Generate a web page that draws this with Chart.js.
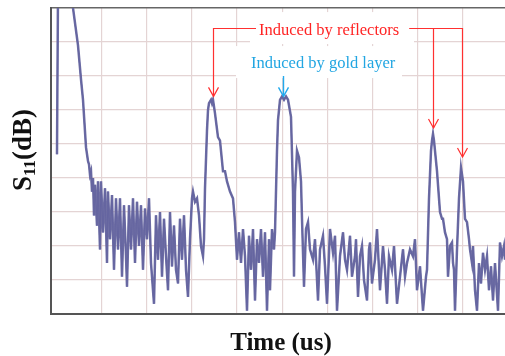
<!DOCTYPE html>
<html>
<head>
<meta charset="utf-8">
<script src="https://cdn.jsdelivr.net/npm/chart.js@4.4.1/dist/chart.umd.min.js"></script>
<style>
  html, body { margin: 0; padding: 0; background: #fff; }
  #wrap { width: 505px; height: 356px; }
</style>
</head>
<body>
<div id="wrap"><canvas id="chart" width="505" height="356"></canvas></div>
<script>
// time axis (arbitrary units, no labels in the source) and S11 trace in dB
const timeUs = [
  6, 7, 21, 22, 27, 30, 32, 35, 37, 38,
  39, 40, 41, 42, 43, 44, 46, 47, 49, 50,
  52, 54, 56, 57, 59, 61, 63, 65, 67, 69,
  71, 73, 75, 76, 78, 80, 82, 84, 86, 88,
  90, 92, 94, 96, 98, 100, 103, 105, 107, 109,
  111, 113, 115, 117, 119, 121, 123, 125, 127, 129,
  131, 133, 135, 137, 139, 141, 142, 144, 146, 148,
  150, 152, 153, 154, 156, 157, 158, 160, 161, 162,
  164, 167, 169, 172, 174, 176, 179, 182, 184, 186,
  188, 190, 192, 194, 196, 198, 200, 202, 204, 206,
  208, 210, 212, 214, 216, 218, 219, 221, 223, 224,
  226, 227, 229, 231, 233, 235, 237, 240, 242, 243,
  244, 246, 248, 250, 251, 253, 255, 257, 259, 262,
  264, 267, 269, 272, 274, 276, 279, 282, 284, 286,
  289, 292, 294, 296, 299, 301, 304, 305, 307, 309,
  311, 313, 316, 318, 319, 321, 324, 326, 327, 329,
  332, 334, 336, 338, 341, 343, 346, 349, 352, 354,
  356, 359, 362, 364, 366, 369, 372, 375, 376, 378,
  380, 381, 382, 383, 384, 386, 389, 391, 392, 394,
  396, 397, 399, 401, 402, 403, 404, 406, 408, 410,
  412, 414, 416, 418, 419, 421, 422, 424, 426, 428,
  430, 432, 434, 436, 438, 440, 442, 444, 447, 449,
  451, 453, 454
];
const s11Db = [
  -43, 5, 5, 0, -11, -21, -27, -41, -45, -46,
  -49, -48, -54, -50, -61, -52, -64, -51, -71, -51,
  -66, -53, -75, -54, -68, -55, -77, -56, -71, -56,
  -79, -58, -73, -82, -58, -71, -56, -75, -57, -70,
  -58, -77, -59, -68, -56, -75, -87, -61, -74, -60,
  -79, -62, -73, -83, -60, -76, -64, -77, -81, -62,
  -74, -61, -77, -85, -68, -56, -54, -57, -56, -61,
  -70, -73, -68, -53, -36, -30, -28, -27, -28, -27,
  -31, -38, -39, -48, -48, -51, -54, -56, -63, -74,
  -66, -75, -65, -73, -89, -67, -77, -65, -86, -68,
  -75, -65, -79, -66, -89, -68, -83, -65, -71, -66,
  -42, -33, -27, -26, -27, -26, -27, -32, -54, -79,
  -54, -42, -44, -51, -62, -82, -65, -63, -71, -74,
  -68, -86, -71, -67, -76, -87, -65, -72, -67, -89,
  -73, -66, -74, -77, -67, -79, -73, -68, -85, -73,
  -70, -80, -86, -71, -69, -81, -74, -65, -71, -83,
  -70, -77, -87, -73, -77, -70, -87, -79, -71, -79,
  -75, -71, -73, -68, -83, -76, -89, -79, -77, -56,
  -42, -39, -37, -39, -42, -48, -60, -62, -62, -66,
  -68, -79, -70, -69, -75, -77, -89, -71, -56, -47,
  -51, -62, -63, -68, -71, -75, -70, -83, -89, -75,
  -81, -72, -77, -73, -83, -76, -86, -75, -89, -69,
  -73, -70, -74
];

// vertical grid positions (time) and horizontal grid spacing (dB)
const gridTimes = [51, 96, 141, 186, 232, 277, 322, 367, 412, 457];
const dbMin = -90, dbMax = 0, dbStep = 10;

// annotations: arrow tips at the echoes
const reflectorTips = [[162, -26], [382, -35.3], [411, -43.8]];
const goldTip = [232, -26];
const reflectorBarDb = -6;
const goldArrowTopDb = -20;
const reflectorText = "Induced by reflectors";
const goldText = "Induced by gold layer";
const reflectorBox = [199, 363, -1.2, -10.6];
const goldBox = [185, 351, -11.2, -20.6];

const points = timeUs.map((t, i) => ({ x: t, y: s11Db[i] }));

function arrowHead(ctx, x, y, hw, h) {
  ctx.beginPath();
  ctx.moveTo(x - hw, y - h);
  ctx.lineTo(x, y);
  ctx.lineTo(x + hw, y - h);
  ctx.stroke();
}

const notes = {
  id: "notes",
  beforeDatasetsDraw(chart) {
    const { ctx, scales: { x, y } } = chart;
    ctx.save();
    ctx.fillStyle = "#fff";
    [reflectorBox, goldBox].forEach((b) => {
      const x0 = x.getPixelForValue(b[0]), x1 = x.getPixelForValue(b[1]);
      const y0 = y.getPixelForValue(b[2]), y1 = y.getPixelForValue(b[3]);
      ctx.fillRect(x0, y0, x1 - x0, y1 - y0);
    });
    ctx.restore();
  },
  afterDatasetsDraw(chart) {
    const { ctx, scales: { x, y } } = chart;
    ctx.save();
    ctx.font = '16.5px "Liberation Serif"';
    ctx.textBaseline = "alphabetic";

    // reflectors label + arrows
    const tx = x.getPixelForValue(208), ty = y.getPixelForValue(-8);
    ctx.fillStyle = "#ff2424";
    ctx.fillText(reflectorText, tx, ty);
    const tw = ctx.measureText(reflectorText).width;
    const barY = Math.round(y.getPixelForValue(reflectorBarDb)) + 0.5;
    ctx.strokeStyle = "#ff3030";
    ctx.lineWidth = 1.2;
    const p0 = reflectorTips.map((p) => [Math.round(x.getPixelForValue(p[0])) + 0.5, y.getPixelForValue(p[1])]);
    ctx.beginPath();
    ctx.moveTo(tx - 3, barY);
    ctx.lineTo(p0[0][0], barY);
    ctx.lineTo(p0[0][0], p0[0][1]);
    ctx.moveTo(tx + tw + 10, barY);
    ctx.lineTo(p0[2][0], barY);
    ctx.lineTo(p0[2][0], p0[2][1]);
    ctx.moveTo(p0[1][0], barY);
    ctx.lineTo(p0[1][0], p0[1][1]);
    ctx.stroke();
    p0.forEach((p) => arrowHead(ctx, p[0], p[1], 5, 9));

    // gold layer label + arrow
    ctx.fillStyle = "#22a6e2";
    ctx.fillText(goldText, x.getPixelForValue(200), y.getPixelForValue(-17.6));
    ctx.strokeStyle = "#22aaee";
    ctx.lineWidth = 1.4;
    const gx = Math.round(x.getPixelForValue(goldTip[0])) + 0.5;
    const gy = y.getPixelForValue(goldTip[1]);
    ctx.beginPath();
    ctx.moveTo(gx, y.getPixelForValue(goldArrowTopDb));
    ctx.lineTo(gx, gy);
    ctx.stroke();
    arrowHead(ctx, gx, gy, 5, 9);
    ctx.restore();
  },
  afterDraw(chart) {
    const { ctx, chartArea } = chart;
    ctx.save();
    ctx.fillStyle = "#111";
    ctx.textBaseline = "alphabetic";
    // x title
    ctx.font = 'bold 25px "Liberation Serif"';
    ctx.textAlign = "center";
    ctx.fillText("Time (us)", (chartArea.left + chartArea.right) / 2 + 3, 350);
    // y title with subscript
    ctx.textAlign = "left";
    ctx.translate(31, 150);
    ctx.rotate(-Math.PI / 2);
    const big = 'bold 27px "Liberation Serif"', small = 'bold 17px "Liberation Serif"';
    ctx.font = big;
    const wS = ctx.measureText("S").width, wR = ctx.measureText("(dB)").width;
    ctx.font = small;
    const w11 = ctx.measureText("11").width;
    let cx = -(wS + w11 + wR) / 2;
    ctx.font = big;
    ctx.fillText("S", cx, 0);
    cx += wS;
    ctx.font = small;
    ctx.fillText("11", cx, 4);
    cx += w11;
    ctx.font = big;
    ctx.fillText("(dB)", cx, 0);
    ctx.restore();
  },
};

new Chart(document.getElementById("chart"), {
  type: "line",
  data: {
    datasets: [
      {
        data: points,
        borderColor: "rgba(104,104,160,0.95)",
        borderWidth: 2.5,
        pointRadius: 0,
        tension: 0,
        clip: 0,
      },
      {
        data: points,
        borderColor: "#2626a4",
        borderWidth: 1.2,
        pointRadius: 0,
        tension: 0,
        clip: 0,
      },
    ],
  },
  options: {
    responsive: false,
    devicePixelRatio: 1,
    animation: false,
    events: [],
    layout: { padding: { left: 51, top: 8, right: 0, bottom: 42 } },
    plugins: { legend: { display: false }, tooltip: { enabled: false } },
    scales: {
      x: {
        type: "linear",
        min: 0,
        max: 454,
        afterBuildTicks: (s) => {
          s.ticks = gridTimes.map((v) => ({ value: v }));
        },
        ticks: { display: false },
        grid: { color: "#e4d4d4", lineWidth: 1.2, drawTicks: false },
        border: { display: true, color: "#555", width: 2 },
      },
      y: {
        type: "linear",
        min: dbMin,
        max: dbMax,
        ticks: { display: false, stepSize: dbStep },
        grid: {
          color: (c) => (c.tick && c.tick.value === dbMax ? "#666" : "#e4d4d4"),
          lineWidth: (c) => (c.tick && c.tick.value === dbMax ? 1.5 : 1.2),
          drawTicks: false,
        },
        border: { display: true, color: "#555", width: 2 },
      },
    },
  },
  plugins: [notes],
});
</script>
</body>
</html>
